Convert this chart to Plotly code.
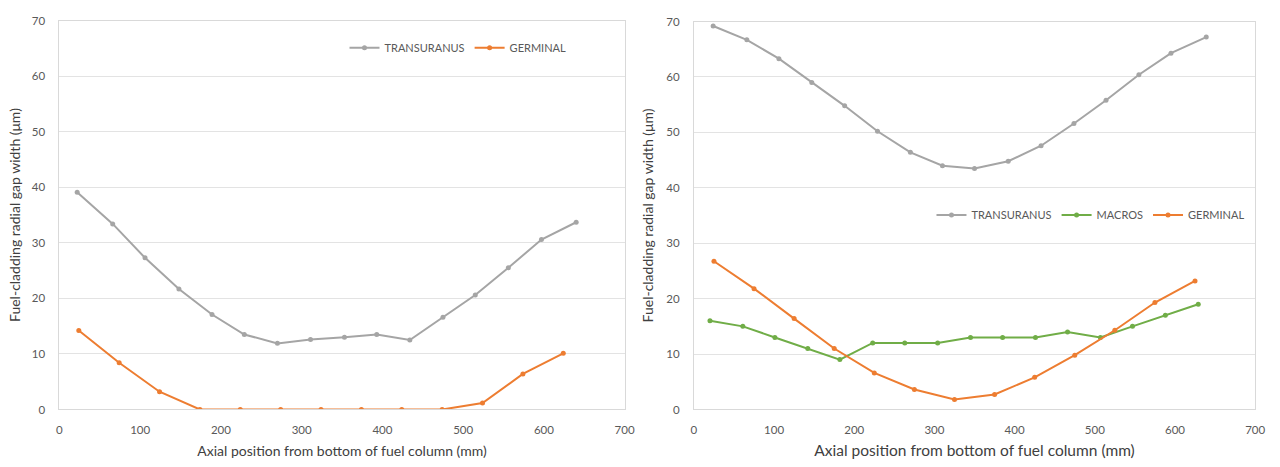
import plotly.graph_objects as go

# ---- data ----
left_trans_x = [22, 66, 106, 148, 189, 229, 270, 311, 353, 393, 434, 475, 515, 556, 597, 640]
left_trans_y = [39.1, 33.4, 27.3, 21.7, 17.1, 13.5, 11.9, 12.6, 13.0, 13.5, 12.5, 16.6, 20.6, 25.5, 30.6, 33.7]
left_germ_x = [24, 74, 124, 174, 224, 274, 324, 374, 424, 474, 524, 574, 624]
left_germ_y = [14.2, 8.4, 3.2, 0, 0, 0, 0, 0, 0, 0, 1.15, 6.4, 10.1]

right_trans_x = [24, 66, 106, 147, 188, 229, 270, 310, 350, 392, 433, 474, 514, 555, 595, 639]
right_trans_y = [69.2, 66.7, 63.3, 59.0, 54.8, 50.2, 46.4, 44.0, 43.5, 44.8, 47.6, 51.6, 55.8, 60.4, 64.3, 67.2]
right_macros_x = [20, 61, 101, 142, 182, 223, 263, 304, 345, 385, 426, 466, 507, 547, 588, 629]
right_macros_y = [16, 15, 13, 11, 9, 12, 12, 12, 13, 13, 13, 14, 13, 15, 17, 19]
right_germ_x = [25, 75, 125, 175, 225, 275, 325, 375, 425, 475, 525, 575, 625]
right_germ_y = [26.75, 21.8, 16.4, 11.0, 6.6, 3.6, 1.8, 2.7, 5.8, 9.8, 14.3, 19.3, 23.2]

x_ticks = [0, 100, 200, 300, 400, 500, 600, 700]
y_ticks = [0, 10, 20, 30, 40, 50, 60, 70]

x_title = "Axial position from bottom of fuel column (mm)"
y_title = "Fuel-cladding radial gap width (μm)"

GRAY = "#a5a5a5"
ORANGE = "#ed7d31"
GREEN = "#70ad47"
FONT = "Lato"
W, H = 1280, 467

def px_x(p):
    return p / W

def px_y(p):
    return (H - p) / H

fig = go.Figure()

def add(x, y, name, color, xa, ya, legend):
    fig.add_trace(go.Scatter(
        x=x, y=y, name=name, mode="lines+markers",
        line=dict(color=color, width=2),
        marker=dict(color=color, size=5, symbol="circle"),
        xaxis=xa, yaxis=ya, legend=legend,
    ))

add(left_trans_x, left_trans_y, "TRANSURANUS", GRAY, "x", "y", "legend")
add(left_germ_x, left_germ_y, "GERMINAL", ORANGE, "x", "y", "legend")
add(right_trans_x, right_trans_y, "TRANSURANUS", GRAY, "x2", "y2", "legend2")
add(right_macros_x, right_macros_y, "MACROS", GREEN, "x2", "y2", "legend2")
add(right_germ_x, right_germ_y, "GERMINAL", ORANGE, "x2", "y2", "legend2")

tick_font = dict(family=FONT, size=11.5, color="#595959")
axis_common = dict(
    showline=True, linecolor="#d9d9d9", linewidth=1, mirror=True,
    zeroline=False, ticks="", tickfont=tick_font,
)

fig.update_layout(
    width=W, height=H,
    margin=dict(l=0, r=0, t=0, b=0),
    paper_bgcolor="white", plot_bgcolor="white",
    font=dict(family=FONT, color="#595959"),
    xaxis=dict(domain=[px_x(57), px_x(628)], range=[0, 700], tickvals=x_ticks,
               showgrid=False, anchor="y", ticklabelstandoff=10,
               title=dict(text=x_title, font=dict(family=FONT, size=14, color="#404040"), standoff=10),
               **axis_common),
    yaxis=dict(domain=[px_y(414), px_y(14)], range=[0, 70], tickvals=y_ticks,
               showgrid=True, gridcolor="#e3e3e3", anchor="x", ticklabelstandoff=11,
               title=dict(text=y_title, font=dict(family=FONT, size=14, color="#404040"), standoff=7),
               **axis_common),
    xaxis2=dict(domain=[px_x(698), px_x(1265)], range=[0, 700], tickvals=x_ticks,
                showgrid=False, anchor="y2", ticklabelstandoff=10,
                title=dict(text=x_title, font=dict(family=FONT, size=15.5, color="#404040"), standoff=9),
                **axis_common),
    yaxis2=dict(domain=[px_y(414), px_y(15)], range=[0, 70], tickvals=y_ticks,
                showgrid=True, gridcolor="#e3e3e3", anchor="x2", ticklabelstandoff=11,
                title=dict(text=y_title, font=dict(family=FONT, size=14, color="#404040"), standoff=9),
                **axis_common),
    legend=dict(orientation="h", x=px_x(345), y=px_y(42), xanchor="left", yanchor="middle",
                bgcolor="rgba(0,0,0,0)", font=dict(family=FONT, size=11, color="#595959"),
                itemwidth=30),
    legend2=dict(orientation="h", x=px_x(938), y=px_y(214), xanchor="left", yanchor="middle",
                 bgcolor="rgba(0,0,0,0)", font=dict(family=FONT, size=11, color="#595959"),
                 itemwidth=30),
)

fig.write_html("out.html")
